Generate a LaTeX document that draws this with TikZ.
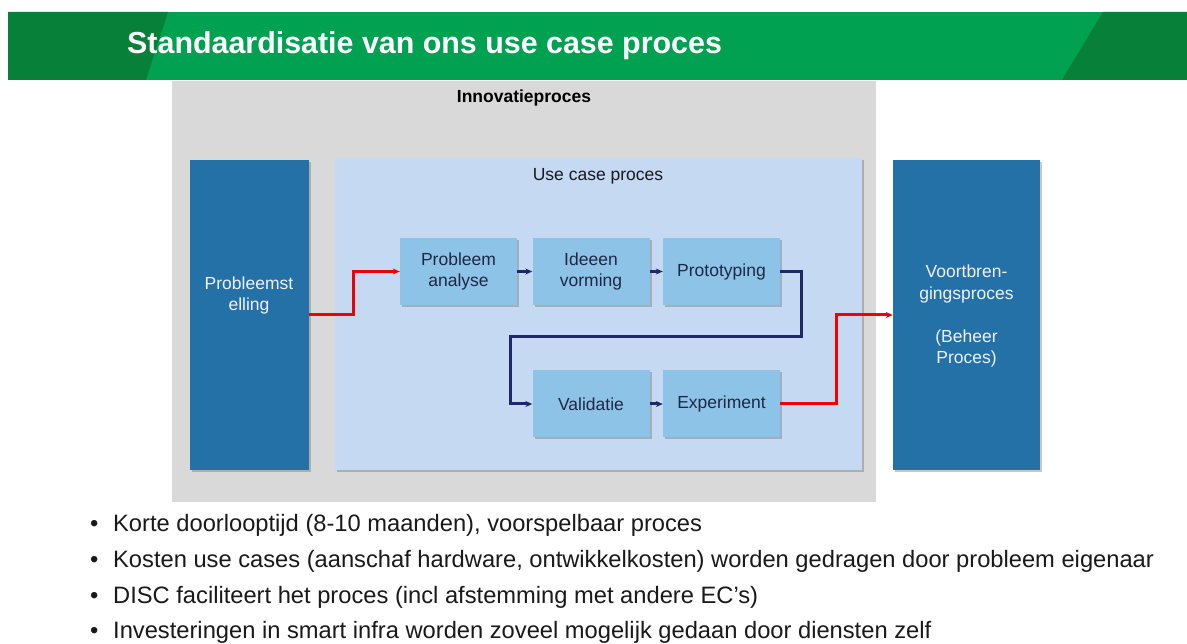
\documentclass[tikz,border=0pt]{standalone}
\usepackage{fontspec}
\setmainfont{Liberation Sans}
\usetikzlibrary{arrows.meta,shadows,calc}
\definecolor{gband}{RGB}{0,161,80}
\definecolor{gdark}{RGB}{7,128,58}
\definecolor{greybox}{RGB}{217,217,217}
\definecolor{lightbox}{RGB}{197,217,243}
\definecolor{stepfill}{RGB}{141,195,230}
\definecolor{darkbox}{RGB}{36,113,168}
\definecolor{navyline}{RGB}{30,40,100}
\definecolor{redline}{RGB}{240,0,0}
\definecolor{bodytext}{RGB}{25,25,25}
\definecolor{steptext}{RGB}{30,40,70}
\begin{document}
\begin{tikzpicture}[x=1pt,y=-1pt,
  shadowed/.style={drop shadow={shadow xshift=2pt,shadow yshift=-2pt,opacity=0.3,fill=black!70}},
  stepbox/.style={rectangle, inner sep=0pt, shadowed, fill=stepfill, minimum width=117pt, minimum height=67pt, align=center, font=\fontsize{17.5}{21}\selectfont, text=steptext},
  bigbox/.style={rectangle, inner sep=0pt, shadowed, fill=darkbox, minimum height=310pt},
  whitetext/.style={align=center, text=white!94!blue, font=\fontsize{17.5}{21.5}\selectfont, inner sep=0pt},
  bullet/.style={anchor=base west, inner sep=0pt, text=bodytext, font=\fontsize{23.7}{28}\selectfont},
  navyarrow/.style={draw=navyline, line width=3pt, -{Stealth[length=7pt,width=6pt]}},
  redarrow/.style={draw=redline, line width=3pt, -{Stealth[length=7pt,width=6pt]}}
]
\useasboundingbox[fill=white] (0,0) rectangle (1187,644);
% header band
\fill[gband] (8,12) rectangle (1187,80);
\fill[gdark] (8,12) -- (168,12) -- (146,80) -- (8,80) -- cycle;
\fill[gdark] (1103,12) -- (1187,12) -- (1187,80) -- (1062,80) -- cycle;
\node[anchor=base west, inner sep=0pt, text=white, font=\fontsize{30.4}{34}\selectfont\bfseries] (title) at (127,54) {Standaardisatie van ons use case proces};
% containers
\node[rectangle, fill=greybox, minimum width=704pt, minimum height=421pt, inner sep=0pt] (innov) at (524,291.5) {};
\node[font=\fontsize{17.5}{21}\selectfont\bfseries, inner sep=0pt] (innovlabel) at (524,97.5) {Innovatieproces};
\node[rectangle, shadowed, fill=lightbox, minimum width=527pt, minimum height=312pt, inner sep=0pt] (usecase) at (598.5,314) {};
\node[font=\fontsize{17.5}{21}\selectfont, text=bodytext, inner sep=0pt] (uclabel) at (598,176.5) {Use case proces};
% side boxes
\node[bigbox, minimum width=119pt] (ps) at (249,315) {};
\node[whitetext] (pstext) at (249,295.5) {Probleemst\\elling};
\node[bigbox, minimum width=147pt] (vb) at (966.5,315) {};
\node[whitetext] (vbtext) at (966.5,316) {Voortbren-\\gingsproces\\[21.5pt](Beheer\\Proces)};
% steps
\node[stepbox] (pa) at (458.5,271.5) {Probleem\\analyse};
\node[stepbox] (iv) at (591,271.5) {Ideeen\\vorming};
\node[stepbox] (pt) at (721.5,271.5) {Prototyping};
\node[stepbox] (va) at (591,404) {Validatie};
\node[stepbox] (ex) at (721.5,404) {Experiment};
\coordinate (bend) at (510,337);
% connectors
\draw[redarrow] (ps.east) -- ++(45,0) |- (pa.west);
\draw[navyarrow] (pa) -- (iv);
\draw[navyarrow] (iv) -- (pt);
\draw[navyarrow] (pt.east) -- ++(21,0) |- (bend) |- (va.west);
\draw[navyarrow] (va) -- (ex);
\draw[redarrow] (ex.east) -- ++(56,0) |- (vb.west);
% bullets
\node[bullet] (b1) at (90,531.5) {\makebox[23pt][l]{•}Korte doorlooptijd (8-10 maanden), voorspelbaar proces};
\node[bullet] (b2) at (90,567.5) {\makebox[23pt][l]{•}Kosten use cases (aanschaf hardware, ontwikkelkosten) worden gedragen door probleem eigenaar};
\node[bullet] (b3) at (90,603.5) {\makebox[23pt][l]{•}DISC faciliteert het proces (incl afstemming met andere EC’s)};
\node[bullet] (b4) at (90,638) {\makebox[23pt][l]{•}Investeringen in smart infra worden zoveel mogelijk gedaan door diensten zelf};
\end{tikzpicture}
\end{document}
